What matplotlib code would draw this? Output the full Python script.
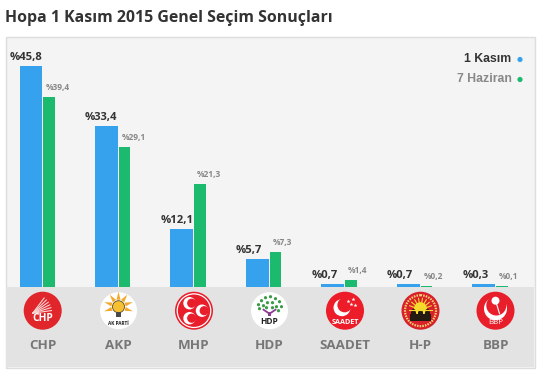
import numpy as np
import matplotlib
matplotlib.use("Agg")
import matplotlib.pyplot as plt
from matplotlib.patches import Circle, Rectangle, Polygon

parties = ["CHP", "AKP", "MHP", "HDP", "SAADET", "H-P", "BBP"]
kasim = [45.8, 33.4, 12.1, 5.7, 0.7, 0.7, 0.3]
haziran = [39.4, 29.1, 21.3, 7.3, 1.4, 0.2, 0.1]
title = "Hopa 1 Kasım 2015 Genel Seçim Sonuçları"
legend_labels = ["1 Kasım", "7 Haziran"]

BLUE = "#36A2EE"
GREEN = "#1CBA6E"
W, H = 544, 374
PX = 4.825  # pixels per percent

plt.rcParams["font.family"] = "Open Sans"
fig = plt.figure(figsize=(W / 100, H / 100), dpi=100)

# overlay in pixel coords for panel, band and logos
bg = fig.add_axes([0, 0, 1, 1])
bg.set_xlim(0, W)
bg.set_ylim(H, 0)
bg.axis("off")
bg.add_patch(Rectangle((5.5, 36.5), 529, 331, fc="#F4F4F4", ec="#DDDDDD", lw=1))
bg.add_patch(Rectangle((6, 287), 528, 80, fc="#E3E3E3", ec="none"))

# bars, very small ones keep a minimum visible height like the original
ax = fig.add_axes([6 / W, 1 - 287 / H, 528 / W, 251 / H])
ax.patch.set_alpha(0)
ax.set_xlim(-0.484, 6.51)
ax.set_ylim(0, 251 / PX)
ax.axis("off")
x = np.arange(len(parties))
blue_h = np.maximum(kasim, 0.62)
green_h = np.maximum(haziran, 0.2)
ax.bar(x - 0.305, blue_h, 0.3, align="edge", color=BLUE)
ax.bar(x + 0.01, green_h, 0.155, align="edge", color=GREEN)
for i in x:
    ax.annotate(f"%{kasim[i]:.1f}".replace(".", ","), (i - 0.305, blue_h[i]), xytext=(-10, 6),
                textcoords="offset pixels", ha="left", va="baseline",
                fontsize=8.1, fontweight="bold", color="#333333")
    ax.annotate(f"%{haziran[i]:.1f}".replace(".", ","), (i + 0.01, green_h[i]), xytext=(2.5, 7),
                textcoords="offset pixels", ha="left", va="baseline",
                fontsize=6.0, fontweight="bold", color="#888888")

# legend
leg_txt = dict(ha="right", va="center", family="Liberation Sans", fontweight="bold", fontsize=8.8)
bg.text(511.5, 59, legend_labels[0], color="#333333", **leg_txt)
bg.text(511.5, 79, legend_labels[1], color="#888888", **leg_txt)
bg.add_patch(Circle((520, 59.5), 2.6, fc=BLUE, ec="none"))
bg.add_patch(Circle((520, 79.5), 2.6, fc=GREEN, ec="none"))

bg.text(5, 18, title, ha="left", va="center", fontsize=11.4, fontweight="bold", color="#333333")


def crescent(cx, cy, r, dx, dy, cover, k=0.8):
    bg.add_patch(Circle((cx, cy), r, fc="white", ec="none"))
    bg.add_patch(Circle((cx + dx, cy + dy), r * k, fc=cover, ec="none"))


def chp(c, cy):
    bg.add_patch(Circle((c, cy), 19, fc="#E0252B", ec="none"))
    for a in [8, 17, 26, 35, 44, 53]:
        t = np.radians(a)
        bg.plot([c - 10, c - 10 + 19 * np.cos(t)], [cy + 2.5, cy + 2.5 - 19 * np.sin(t)], color="#FAD4D4", lw=0.8)
    bg.text(c, cy + 8, "CHP", color="white", fontsize=7.4, fontweight="bold", ha="center", va="center")


def akp(c, cy):
    bg.add_patch(Circle((c, cy), 18.5, fc="white", ec="none"))
    for a in np.arange(-18, 199, 36):
        t = np.radians(a)
        n = t + np.pi / 2
        base = [c + 7 * np.cos(t), cy - 4 - 7 * np.sin(t)]
        bg.add_patch(Polygon([[base[0] + 2 * np.cos(n), base[1] - 2 * np.sin(n)],
                              [base[0] - 2 * np.cos(n), base[1] + 2 * np.sin(n)],
                              [c + 15 * np.cos(t), cy - 4 - 15 * np.sin(t)]], fc="#F2A92C", ec="none"))
    bg.add_patch(Circle((c, cy - 4), 6, fc="#F6C030", ec="#5A4A24", lw=0.6))
    bg.add_patch(Rectangle((c - 2.5, cy + 1.5), 5, 5, fc="#4A4A4A", ec="none"))
    bg.text(c, cy + 12.5, "AK PARTİ", color="#222222", fontsize=3.4, fontweight="bold", ha="center", va="center")


def mhp(c, cy):
    bg.add_patch(Circle((c, cy), 19, fc="#E81E2B", ec="none"))
    bg.add_patch(Circle((c, cy), 16.8, fc="none", ec="white", lw=0.9))
    crescent(c - 4.5, cy - 7.5, 6.2, 2.2, 0, "#E81E2B", 0.74)
    crescent(c - 4.5, cy + 7.5, 6.2, 2.2, 0, "#E81E2B", 0.74)
    crescent(c + 8, cy, 6.2, 2.2, 0, "#E81E2B", 0.74)


def hdp(c, cy):
    bg.add_patch(Circle((c, cy), 18.5, fc="white", ec="none"))
    leaves = [(-11, -6), (-8, -10), (-4, -13), (1, -14), (6, -12), (10, -9), (12, -4),
              (-6, -5), (-2, -8), (3, -8), (7, -4), (-10, -2), (-3, -3), (3, -3), (9, 0)]
    for dx, dy in leaves:
        bg.add_patch(Circle((c + dx, cy + dy), 1.6, fc="#3B9A46", ec="none"))
    bg.plot([c - 6, c, c + 6], [cy - 1, cy + 3, cy - 1], color="#8E3B96", lw=1.3)
    bg.add_patch(Rectangle((c - 1.5, cy + 1), 3, 4.5, fc="#8E3B96", ec="none"))
    bg.text(c, cy + 10.5, "HDP", color="#222222", fontsize=6.0, fontweight="bold", ha="center", va="center")


def saadet(c, cy):
    bg.add_patch(Circle((c, cy), 19, fc="#EC1C28", ec="none"))
    crescent(c - 3, cy - 3, 8.5, 2.6, -2.6, "#EC1C28", 0.85)
    for dx, dy in [(3, -10), (8, -12), (6, -7), (10, -6)]:
        bg.plot(c + dx, cy + dy, marker="*", ms=3, color="white", mew=0)
    bg.text(c, cy + 11.5, "SAADET", color="white", fontsize=5.2, fontweight="bold", ha="center", va="center")


def hp(c, cy):
    bg.add_patch(Circle((c, cy), 19, fc="#D8202A", ec="none"))
    bg.add_patch(Circle((c, cy), 15.5, fc="none", ec="#F6D070", lw=1.6, ls=(0, (0.7, 0.5))))
    for a in np.arange(0, 181, 20):
        t = np.radians(a)
        bg.plot([c, c + 11.5 * np.cos(t)], [cy - 1, cy - 1 - 11.5 * np.sin(t)], color="#F6D92C", lw=0.8)
    bg.add_patch(Circle((c, cy - 2), 6.5, fc="#F6E02C", ec="none"))
    bg.add_patch(Rectangle((c - 10.5, cy + 3.5), 21, 6.5, fc="#231A12", ec="none"))
    for dx in [-7, 0, 7]:
        bg.add_patch(Rectangle((c + dx - 2.8, cy + 1.5), 5.6, 3, fc="#231A12", ec="none"))
        bg.add_patch(Circle((c + dx, cy + 0.5), 2.2, fc="#231A12", ec="none"))


def bbp(c, cy):
    bg.add_patch(Circle((c, cy), 19, fc="#E81E2B", ec="none"))
    crescent(c, cy - 2, 11.5, 0.8, -3.2, "#E81E2B", 0.87)
    bg.add_patch(Circle((c, cy - 10), 4, fc="white", ec="none"))
    bg.plot([c + 1, c + 4], [cy - 7, cy + 3], color="white", lw=0.8)
    bg.text(c + 0.5, cy + 12, "BBP", color="white", fontsize=5.8, ha="center", va="center")


logos = [chp, akp, mhp, hdp, saadet, hp, bbp]
name_x = [42.7, 118.5, 194, 269.5, 345, 420.5, 495.5]
for name, logo, c in zip(parties, logos, name_x):
    logo(c, 310.7)
    bg.text(c, 345.5, name, ha="center", va="center", fontsize=9.6, fontweight="bold", color="#777777")

bg.set_xlim(0, W)
bg.set_ylim(H, 0)
fig.savefig("out.png", dpi=100)
